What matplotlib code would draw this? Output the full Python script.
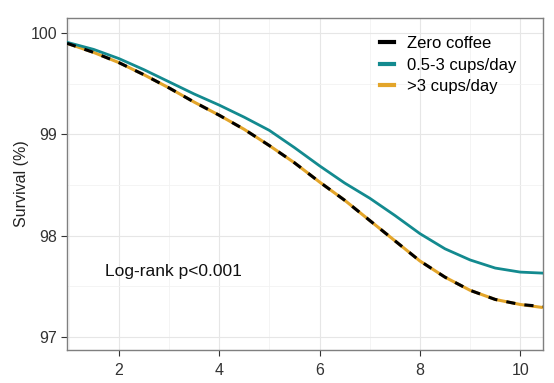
import matplotlib
matplotlib.use("Agg")
import matplotlib.pyplot as plt
from matplotlib.ticker import MultipleLocator
from matplotlib.lines import Line2D

plt.rcParams['font.family'] = ['Liberation Sans', 'DejaVu Sans']

# Data (years, survival %)
time = [0.97, 1.5, 2.0, 2.5, 3.0, 3.5, 4.0, 4.5, 5.0, 5.5, 6.0, 6.5, 7.0, 7.5, 8.0, 8.5, 9.0, 9.5, 10.0, 10.45]
zero_coffee = [99.90, 99.81, 99.71, 99.59, 99.46, 99.32, 99.19, 99.05, 98.89, 98.72, 98.53, 98.35, 98.15, 97.95, 97.75, 97.59, 97.46, 97.37, 97.32, 97.30]
mid_coffee = [99.91, 99.84, 99.75, 99.64, 99.52, 99.40, 99.29, 99.17, 99.04, 98.87, 98.69, 98.52, 98.37, 98.20, 98.02, 97.87, 97.76, 97.68, 97.64, 97.63]
high_coffee = [99.90, 99.81, 99.71, 99.59, 99.46, 99.32, 99.19, 99.05, 98.89, 98.72, 98.53, 98.35, 98.15, 97.95, 97.75, 97.59, 97.46, 97.37, 97.32, 97.29]
labels = ["Zero coffee", "0.5-3 cups/day", ">3 cups/day"]
annotation = "Log-rank p<0.001"

fig = plt.figure(figsize=(5.54, 3.83), dpi=100)
ax = fig.add_axes([0.121, 0.086, 0.859, 0.867])

teal = "#138a8f"
orange = "#E3A52A"

ax.plot(time, high_coffee, color=orange, lw=2.2, solid_capstyle='butt', zorder=3)
ax.plot(time, mid_coffee, color=teal, lw=2.0, zorder=4)
ax.plot(time, zero_coffee, color="black", lw=2.2, dashes=(3, 3), zorder=5)

ax.set_xlim(0.97, 10.45)
ax.set_ylim(96.87, 100.15)
ax.xaxis.set_major_locator(MultipleLocator(2))
ax.xaxis.set_minor_locator(MultipleLocator(1))
ax.yaxis.set_major_locator(MultipleLocator(1))
ax.yaxis.set_minor_locator(MultipleLocator(0.5))
ax.grid(which='major', color='#e6e6e6', lw=0.8)
ax.grid(which='minor', color='#f2f2f2', lw=0.6)
ax.set_axisbelow(True)
ax.tick_params(which='major', direction='out', length=4, width=0.8, color='#333333',
               labelsize=11.5, labelcolor='#333333', pad=3)
ax.tick_params(axis='x', pad=5)
ax.tick_params(which='minor', length=0)
for s in ax.spines.values():
    s.set_color('#7f7f7f')
    s.set_linewidth(1.0)

ax.set_ylabel("Survival (%)", fontsize=11.5, color='#222222')
ax.yaxis.set_label_coords(-0.08, 0.5)

handles = [Line2D([], [], color='black', lw=3),
           Line2D([], [], color=teal, lw=3),
           Line2D([], [], color=orange, lw=3)]
ax.legend(handles, labels, loc='upper right', bbox_to_anchor=(0.968, 0.98), frameon=False,
          fontsize=12, handlelength=0.85, handletextpad=0.75, labelspacing=0.38, borderaxespad=0.3)

ax.text(1.72, 97.65, annotation, fontsize=12.5, color='#111111', va='center', ha='left')

fig.savefig("out.png", dpi=100)
